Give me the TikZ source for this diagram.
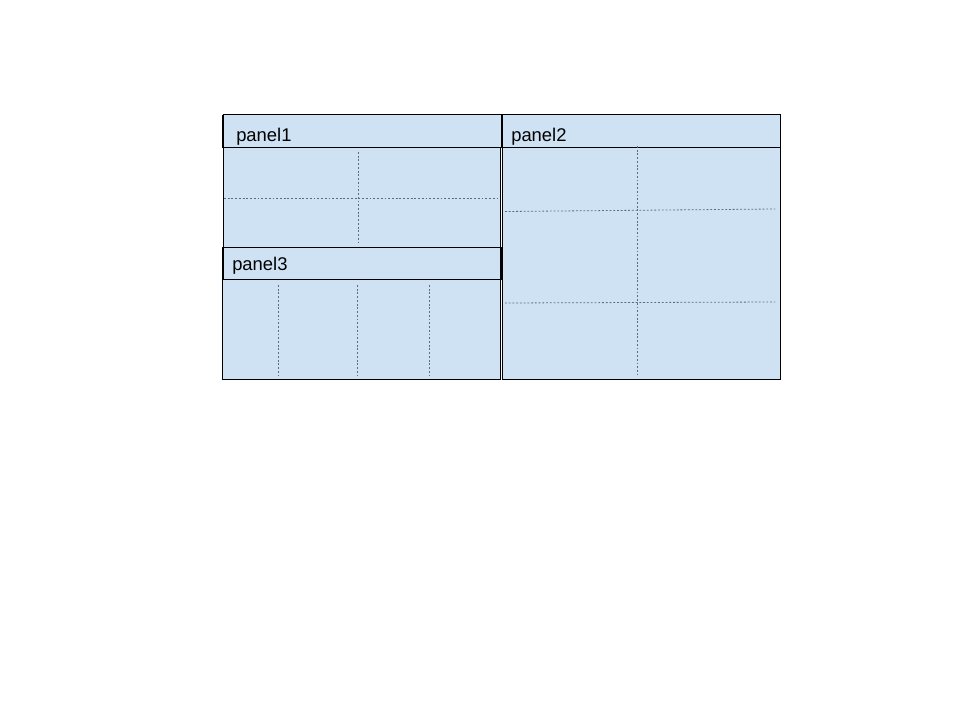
\documentclass[tikz,border=0pt]{standalone}
\usepackage{fontspec}
\setmainfont{Liberation Sans}
\definecolor{panelblue}{HTML}{CFE2F3}
\definecolor{gridgray}{HTML}{5F6B7A}
\begin{document}
\begin{tikzpicture}[x=0.75pt, y=-0.75pt, every node/.style={font=\fontsize{13.8}{16}\selectfont}]
  \tikzstyle{pbox}=[draw=black,fill=panelblue,line width=0.75pt]
  \tikzstyle{hside}=[draw=black,line width=1.4pt]
  \tikzstyle{grid}=[draw=gridgray,line width=0.6pt,dash pattern=on 1.4pt off 1.4pt]
  \tikzstyle{title}=[anchor=base west,inner sep=0pt]
  \useasboundingbox (0,0) rectangle (960,720);
  % panel 1
  \draw[pbox] (223,115) rectangle (500,248);
  \draw[pbox] (223,115) rectangle (501.5,148);
  \draw[hside] (223,115) -- (223,148) (501.5,115) -- (501.5,148);
  \node[title] (p1) at (236,142) {panel1};
  \draw[grid] (358,152) -- (358,242);
  \draw[grid] (224,198.5) -- (498,198.5);
  % panel 2
  \draw[pbox] (502.5,115) rectangle (780.5,379);
  \draw[pbox] (502.5,115) rectangle (780.5,148);
  \node[title] (p2) at (511,142) {panel2};
  \draw[grid] (637,146) -- (637,375);
  \draw[grid] (505,211.5) -- (775,209);
  \draw[grid] (505,303) -- (775,302);
  % panel 3
  \draw[pbox] (222.5,248) rectangle (500,379);
  \draw[pbox] (223,248) rectangle (501,279.5);
  \draw[hside] (223,248) -- (223,279.5) (501,248) -- (501,279.5);
  \node[title] (p3) at (232,271) {panel3};
  \foreach \gx in {278.5,357.5,429} \draw[grid] (\gx,285) -- (\gx,375);
\end{tikzpicture}
\end{document}
